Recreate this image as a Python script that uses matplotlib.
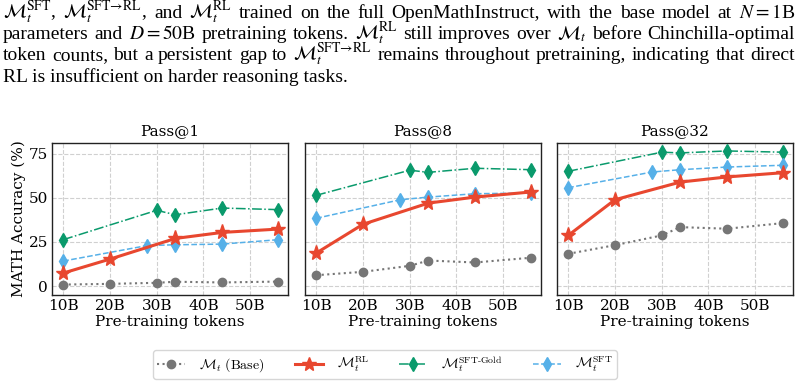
import matplotlib
matplotlib.use("Agg")
import matplotlib.pyplot as plt
from matplotlib.lines import Line2D

# --- data ---
panels = ["Pass@1", "Pass@8", "Pass@32"]

base_x = [10, 20, 30, 34, 44, 56]
rl_x = [10, 20, 34, 44, 56]
gold_x = [10, 30, 34, 44, 56]
sft_x = [10, 28, 34, 44, 56]

base_y = [
    [0.9, 1.3, 1.9, 2.5, 2.1, 2.6],
    [6.2, 8.1, 11.5, 14.5, 13.4, 16.1],
    [18.3, 23.2, 28.7, 33.4, 32.5, 35.7],
]
rl_y = [
    [7.4, 15.3, 27.0, 30.4, 32.3],
    [18.7, 35.0, 47.0, 50.4, 53.3],
    [28.7, 48.9, 58.9, 61.8, 64.2],
]
gold_y = [
    [26.3, 42.9, 40.4, 44.2, 43.3],
    [51.4, 65.6, 64.4, 66.7, 65.9],
    [65.0, 75.8, 75.4, 76.5, 75.8],
]
sft_y = [
    [14.2, 23.0, 23.4, 23.8, 26.3],
    [38.4, 48.9, 50.4, 52.3, 52.7],
    [55.7, 64.6, 65.9, 67.4, 68.4],
]

xticks = [10, 20, 30, 40, 50]
xtick_labels = ["10B", "20B", "30B", "40B", "50B"]
yticks = [0, 25, 50, 75]

caption = [
    r"$\mathcal{M}_t^{\mathrm{SFT}}$, $\mathcal{M}_t^{\mathrm{SFT}\!\rightarrow\!\mathrm{RL}}$, and "
    r"$\mathcal{M}_t^{\mathrm{RL}}$ trained on the full OpenMathInstruct, with the base model at $N=1$B",
    r"parameters and $D=50$B pretraining tokens. $\mathcal{M}_t^{\mathrm{RL}}$ still improves over "
    r"$\mathcal{M}_t$ before Chinchilla-optimal",
    r"token counts, but a persistent gap to $\mathcal{M}_t^{\mathrm{SFT}\!\rightarrow\!\mathrm{RL}}$ "
    r"remains throughout pretraining, indicating that direct",
    "RL is insufficient on harder reasoning tasks.",
]

C_BASE = "#767676"
C_RL = "#e8472f"
C_GOLD = "#0a9a6c"
C_SFT = "#56b0e8"

plt.rcParams["font.family"] = "DejaVu Serif"
plt.rcParams["mathtext.fontset"] = "cm"

W, H = 804, 385
fig = plt.figure(figsize=(W / 100, H / 100), dpi=100)

# caption (Times-like); first three lines justified by spreading the words
cap_y = [18, 39, 60, 81.5]
cap_fs = 14
x0, x1 = 3, 795
renderer = fig.canvas.get_renderer()
for k, (line, yb) in enumerate(zip(caption, cap_y)):
    if k == 3:
        fig.text(x0 / W, 1 - yb / H, line, fontsize=cap_fs, family="Liberation Serif",
                 math_fontfamily="stix", ha="left", va="baseline")
        continue
    words = line.split(" ")
    texts = []
    widths = []
    for wd in words:
        t = fig.text(0, 1 - yb / H, wd, fontsize=cap_fs, family="Liberation Serif",
                     math_fontfamily="stix", ha="left", va="baseline")
        texts.append(t)
        widths.append(t.get_window_extent(renderer).width)
    gap = (x1 - x0 - sum(widths)) / (len(words) - 1)
    xpos = x0
    for t, w in zip(texts, widths):
        t.set_x(xpos / W)
        xpos += w + gap

lefts = [52, 305, 557]
ax_w = 236
top, bottom = 143, 295

for i, lp in enumerate(lefts):
    ax = fig.add_axes([lp / W, 1 - bottom / H, ax_w / W, (bottom - top) / H])
    ax.plot(base_x, base_y[i], color=C_BASE, ls=":", lw=1.5, marker="o", ms=6, zorder=3)
    ax.plot(rl_x, rl_y[i], color=C_RL, ls="-", lw=2.2, marker="*", ms=11, zorder=5)
    ax.plot(gold_x, gold_y[i], color=C_GOLD, ls="-.", lw=1.1, marker="d", ms=7.5, zorder=4)
    ax.plot(sft_x, sft_y[i], color=C_SFT, ls="--", lw=1.1, marker="d", ms=7.5, zorder=4)

    ax.set_xlim(7.6, 58.1)
    ax.set_ylim(-5, 81)
    ax.set_xticks(xticks)
    ax.set_xticklabels(xtick_labels)
    ax.set_yticks(yticks)
    ax.grid(True, color="#d0d0d0", ls="--", lw=0.8)
    ax.set_axisbelow(True)
    ax.tick_params(length=0, labelsize=11, pad=3)
    for s in ax.spines.values():
        s.set_color("#222222")
        s.set_linewidth(1.0)
    ax.set_title(panels[i], fontsize=11, pad=6)
    ax.set_xlabel("Pre-training tokens", fontsize=11, labelpad=1)
    if i == 0:
        ax.set_ylabel("MATH Accuracy (%)", fontsize=11, labelpad=2)
    else:
        ax.tick_params(labelleft=False)

handles = [
    Line2D([], [], color=C_BASE, ls=":", lw=1.5, marker="o", ms=6),
    Line2D([], [], color=C_RL, ls="-", lw=2.2, marker="*", ms=10),
    Line2D([], [], color=C_GOLD, ls="-.", lw=1.1, marker="d", ms=7),
    Line2D([], [], color=C_SFT, ls="--", lw=1.1, marker="d", ms=7),
]
labels = [
    r"$\mathcal{M}_t\ \mathrm{(Base)}$",
    r"$\mathcal{M}_t^{\mathrm{RL}}$",
    r"$\mathcal{M}_t^{\mathrm{SFT\text{-}Gold}}$",
    r"$\mathcal{M}_t^{\mathrm{SFT}}$",
]
leg = fig.legend(handles, labels, loc="center", ncol=4, bbox_to_anchor=(385 / W, 1 - 364.5 / H),
                 fontsize=10, frameon=True, fancybox=True, edgecolor="#cccccc",
                 handlelength=2.0, columnspacing=2.2, borderpad=0.3, handletextpad=1.0)

fig.savefig("out.png", dpi=100)
